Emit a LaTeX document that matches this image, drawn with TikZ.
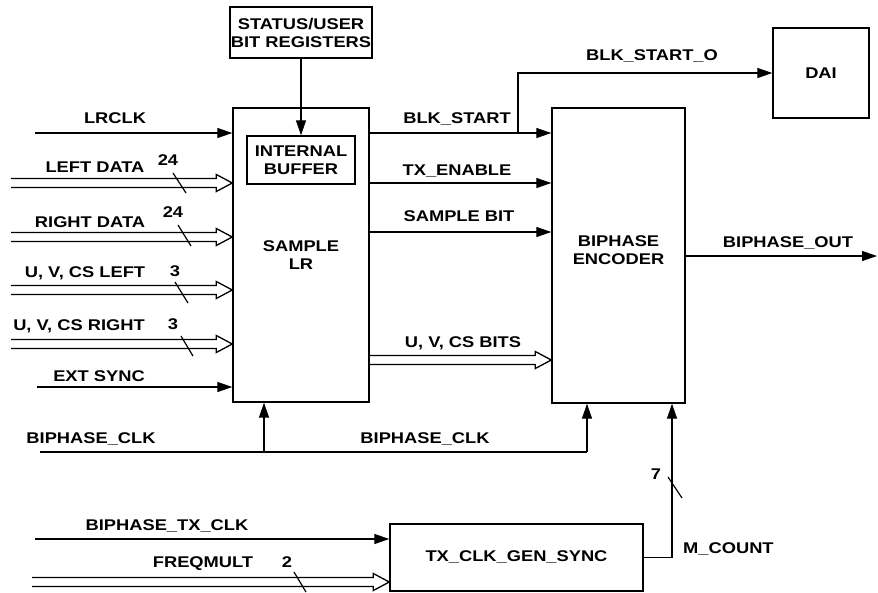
\documentclass[tikz,border=0pt]{standalone}
\usepackage{fontspec}
\setmainfont{Liberation Sans}[FakeStretch=1.18]
\usetikzlibrary{calc,arrows.meta,positioning}

% double-line bus with an open arrow head, from #1 to #2
\newcommand\busarrow[2]{%
  \draw[busline] ($(#1)+(0,-4.5)$) -- ($(#2)+(-16,-4.5)$) -- ($(#2)+(-16,-8.5)$)
    -- (#2) -- ($(#2)+(-16,8.5)$) -- ($(#2)+(-16,4.5)$) -- ($(#1)+(0,4.5)$);}

\begin{document}
\begin{tikzpicture}[
  x=1pt,
  y=-1pt,
  line join=miter,
  >={Triangle[length=15pt,width=10pt]},
  font=\fontsize{15.5}{18}\selectfont\bfseries,
  block/.style={draw=black,line width=1.4pt,align=center,inner sep=0pt},
  signal/.style={black,line width=1.3pt},
  busline/.style={black,line width=1.3pt},
  tag/.style={anchor=base,inner sep=0pt},
  tick/.style={black,line width=1.2pt}
]
\path[use as bounding box] (0,0) rectangle (878,592);

% blocks
\node[block,minimum width=142pt,minimum height=51pt] (status) at (301,32.5)
  {STATUS/USER\\BIT REGISTERS};
\node[block,minimum width=136pt,minimum height=294pt] (lr) at (301,255) {SAMPLE\\LR};
\node[block,minimum width=108pt,minimum height=48pt] (buf) at (301,160)
  {INTERNAL\\BUFFER};
\node[block,minimum width=133pt,minimum height=295pt] (enc) at (618.5,255.5) {};
\node[align=center,inner sep=0pt] (encTxt) at ([yshift=5.5pt]enc.center)
  {BIPHASE\\ENCODER};
\node[block,minimum width=96pt,minimum height=90pt] (dai) at (821,73) {DAI};
\node[block,minimum width=253pt,minimum height=67pt] (gen) at (516.5,557.5)
  {TX\_CLK\_GEN\_SYNC};

\draw[signal,->] (status.south) -- (buf.north);

% inputs of SAMPLE LR
\coordinate (lrclk) at (35,133);
\coordinate (ldata) at (11,183);
\coordinate (rdata) at (11,237);
\coordinate (uvcsl) at (11,290);
\coordinate (uvcsr) at (11,344);
\coordinate (extsync) at (37,387);
\coordinate (ldataE) at (ldata -| lr.west);
\coordinate (rdataE) at (rdata -| lr.west);
\coordinate (uvcslE) at (uvcsl -| lr.west);
\coordinate (uvcsrE) at (uvcsr -| lr.west);

\draw[signal,->] (lrclk) -- (lrclk -| lr.west);
\busarrow{ldata}{ldataE}
\busarrow{rdata}{rdataE}
\busarrow{uvcsl}{uvcslE}
\busarrow{uvcsr}{uvcsrE}
\draw[signal,->] (extsync) -- (extsync -| lr.west);

\node[tag] (tLrclk) at (115,123.5) {LRCLK};
\node[tag] (tLdata) at (95,172.5) {LEFT DATA};
\node[tag] (tRdata) at (90,227.5) {RIGHT DATA};
\node[tag] (tUvcsl) at (85,277.5) {U, V, CS LEFT};
\node[tag] (tUvcsr) at (79,330.5) {U, V, CS RIGHT};
\node[tag] (tExt) at (99,381.5) {EXT SYNC};

\node[tag] (nLdata) at (168,165.5) {24};
\node[tag] (nRdata) at (173,217.5) {24};
\node[tag] (nUvcsl) at (175,276.5) {3};
\node[tag] (nUvcsr) at (173,329.5) {3};
\draw[tick] (173,173) -- (186,193);
\draw[tick] (178,225) -- (191,246);
\draw[tick] (175,282) -- (188,303);
\draw[tick] (181,336) -- (193,356);

% SAMPLE LR to BIPHASE ENCODER
\coordinate (blk) at (lr.east |- lrclk);
\coordinate (txen) at (lr.east |- ldata);
\coordinate (sbit) at (369,232);
\coordinate (uvb) at (369,360);
\coordinate (uvbE) at (uvb -| enc.west);
\coordinate (bso) at (518,133);

\draw[signal,->] (blk) -- (blk -| enc.west);
\draw[signal,->] (txen) -- (txen -| enc.west);
\draw[signal,->] (sbit) -- (sbit -| enc.west);
\busarrow{uvb}{uvbE}
\draw[signal,->] (bso) |- (dai.west);

\node[tag] (tBlk) at (457,123.5) {BLK\_START};
\node[tag] (tTxen) at (457,175.5) {TX\_ENABLE};
\node[tag] (tSbit) at (459,221.5) {SAMPLE BIT};
\node[tag] (tUvb) at (463,347.5) {U, V, CS BITS};
\node[tag] (tBso) at (652,60.5) {BLK\_START\_O};

% output
\coordinate (bout) at (877,256);
\draw[signal,->] (bout -| enc.east) -- (bout);
\node[tag] (tBout) at (788,247.5) {BIPHASE\_OUT};

% clock
\coordinate (clk) at (40,452);
\coordinate (clkLR) at (264,452);
\coordinate (clkEnc) at (587,452);
\draw[signal] (clk) -- (clkEnc);
\draw[signal,->] (clkLR) -- (clkLR |- lr.south);
\draw[signal,->] (clkEnc) -- (clkEnc |- enc.south);
\node[tag] (tClkA) at (91,443.5) {BIPHASE\_CLK};
\node[tag] (tClkB) at (425,443.5) {BIPHASE\_CLK};

% clock generator
\coordinate (txclk) at (35,539);
\coordinate (fmult) at (32,582);
\coordinate (fmultE) at (fmult -| gen.west);
\coordinate (mcount) at (672,557.5);

\draw[signal,->] (txclk) -- (txclk -| gen.west);
\busarrow{fmult}{fmultE}
\draw[signal,->] (gen.east) -- (mcount) -- (mcount |- enc.south);

\node[tag] (tTxclk) at (167,530.5) {BIPHASE\_TX\_CLK};
\node[tag] (tFmult) at (203,567.5) {FREQMULT};
\node[tag] (nFmult) at (287,567.5) {2};
\draw[tick] (294,572) -- (306,592);
\node[tag] (nMcount) at (656,479.5) {7};
\draw[tick] (668,477) -- (682,498);
\node[tag,anchor=base west] (tMcount) at (683,553.5) {M\_COUNT};
\end{tikzpicture}
\end{document}
